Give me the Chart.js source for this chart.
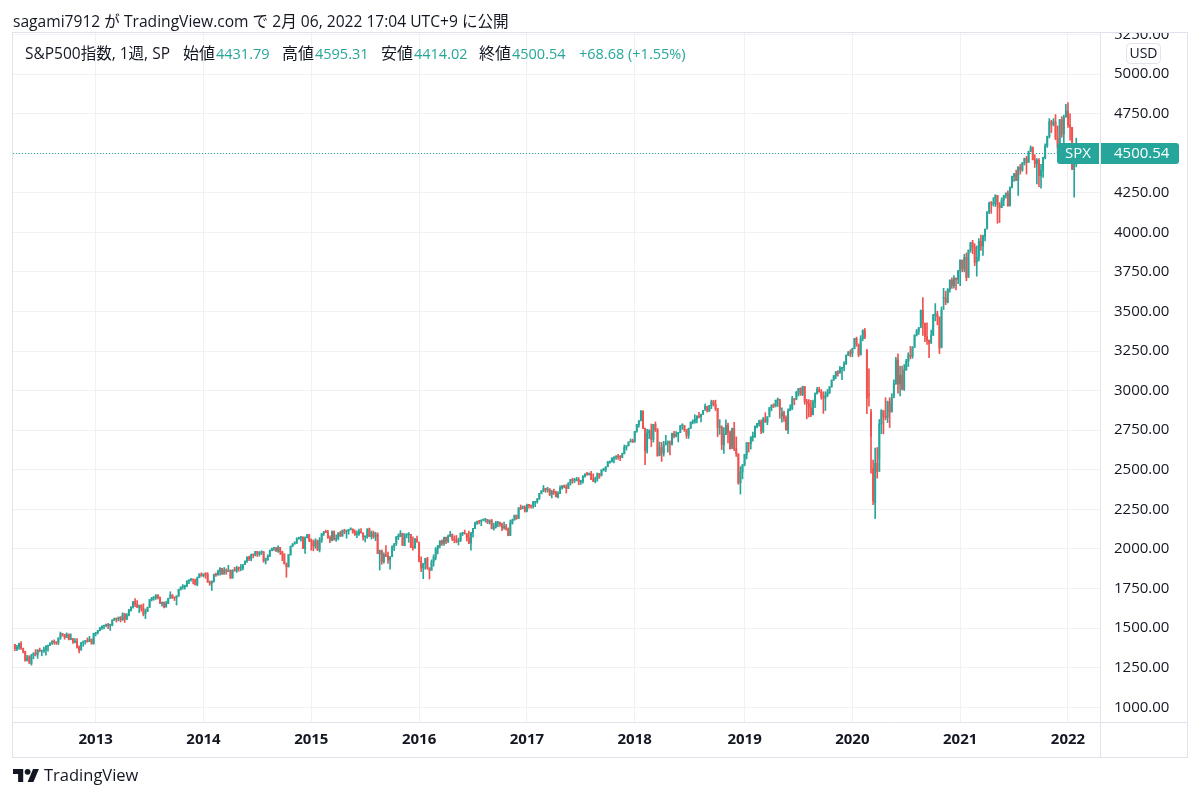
<!DOCTYPE html>
<html>
<head>
<meta charset="utf-8">
<title>S&amp;P500 weekly</title>
<script src="https://cdn.jsdelivr.net/npm/chart.js@4.4.1/dist/chart.umd.min.js"></script>
<style>
  html, body { margin: 0; padding: 0; background: #fff; }
  body { width: 1200px; height: 800px; overflow: hidden; }
  canvas { display: block; }
</style>
</head>
<body>
<canvas id="chart" width="1200" height="800"></canvas>
<script>
// --- Data: S&P500 weekly candles (week ending Friday) ---
const open2012 = [1398,1370,1379,1403,1369,1353,1295,1318,1278,1326,1343,1335,1362,1355,1357,1363,1386,1391,1406,1418,1411,1407,1438,1466,1460,1441,1461,1429,1433,1412,1414,1380,1360,1409,1416,1418,1414,1430];
const high2012 = [1398,1392,1406,1415,1374,1354,1328,1326,1335,1344,1364,1363,1374,1358,1380,1390,1392,1407,1419,1426,1413,1438,1475,1465,1460,1470,1464,1464,1435,1434,1434,1388,1409,1419,1421,1438,1448,1431];
const low2012 = [1357,1358,1366,1367,1343,1291,1292,1277,1266,1306,1324,1309,1350,1325,1346,1329,1354,1391,1397,1398,1397,1396,1429,1449,1430,1440,1425,1427,1403,1407,1373,1343,1363,1385,1398,1411,1416,1398];
const close2012 = [1370,1379,1403,1369,1353,1295,1318,1278,1326,1343,1335,1362,1355,1357,1363,1386,1391,1406,1418,1411,1407,1438,1466,1460,1441,1461,1429,1433,1412,1414,1380,1360,1409,1416,1418,1414,1430,1402];

const open2013 = [1402,1466,1472,1486,1503,1513,1518,1520,1516,1518,1551,1561,1557,1569,1553,1589,1555,1582,1614,1634,1667,1650,1631,1643,1627,1592,1606,1632,1680,1692,1692,1710,1691,1656,1664,1633,1655,1688,1710,1692,1691,1703,1745,1760,1762,1771,1798,1805,1806,1805,1775,1818];
const high2013 = [1467,1473,1486,1503,1514,1518,1525,1531,1525,1553,1564,1563,1570,1573,1597,1593,1592,1618,1635,1667,1687,1674,1646,1648,1654,1620,1632,1680,1693,1698,1710,1710,1698,1664,1664,1670,1689,1730,1711,1696,1704,1745,1760,1775,1771,1798,1805,1813,1808,1809,1823,1844];
const low2013 = [1398,1451,1463,1482,1492,1495,1508,1497,1485,1514,1547,1538,1546,1539,1548,1536,1555,1577,1607,1626,1635,1630,1598,1607,1577,1560,1604,1631,1671,1676,1681,1684,1654,1639,1627,1633,1656,1688,1687,1674,1646,1700,1740,1746,1746,1761,1780,1797,1779,1772,1767,1819];
const close2013 = [1466,1472,1486,1503,1513,1518,1520,1516,1518,1551,1561,1557,1569,1553,1589,1555,1582,1614,1634,1667,1650,1631,1643,1627,1592,1606,1632,1680,1692,1692,1710,1691,1656,1664,1633,1655,1688,1710,1692,1691,1703,1745,1760,1762,1771,1798,1805,1806,1805,1775,1818,1841];

const open2014 = [1841,1831,1842,1839,1790,1783,1797,1839,1836,1859,1878,1841,1867,1858,1865,1816,1865,1863,1881,1878,1878,1901,1924,1949,1936,1963,1961,1985,1968,1978,1978,1925,1932,1955,1988,2003,2008,1986,2010,1983,1968,1906,1887,1965,2018,2032,2040,2064,2068,2075,2002,2071];
const high2014 = [1849,1843,1851,1850,1798,1798,1841,1847,1867,1883,1878,1883,1875,1897,1868,1869,1884,1891,1886,1902,1901,1924,1950,1955,1968,1968,1985,1985,1983,1989,1985,1943,1964,1994,2006,2011,2008,2019,2009,1986,1970,1912,1966,2018,2034,2046,2071,2075,2079,2076,2077,2093];
const low2014 = [1827,1823,1815,1790,1770,1738,1791,1826,1834,1835,1839,1841,1840,1857,1814,1816,1859,1851,1859,1862,1868,1900,1915,1926,1925,1944,1956,1952,1955,1965,1916,1905,1928,1952,1989,1990,1984,1978,1965,1926,1905,1821,1886,1960,2014,2030,2034,2062,2049,2002,1972,2069];
const close2014 = [1831,1842,1839,1790,1783,1797,1839,1836,1859,1878,1841,1867,1858,1865,1816,1865,1863,1881,1878,1878,1901,1924,1949,1936,1963,1961,1985,1968,1978,1978,1925,1932,1955,1988,2003,2008,1986,2010,1983,1968,1906,1887,1965,2018,2032,2040,2064,2068,2075,2002,2071,2089];

const open2015 = [2089,2058,2045,2019,2052,1995,2055,2097,2110,2105,2071,2053,2108,2061,2067,2102,2081,2118,2108,2116,2123,2126,2107,2093,2094,2110,2101,2077,2077,2127,2080,2104,2078,2092,1966,1989,1921,1961,1958,1931,1951,2015,2033,2075,2079,2099,2023,2089,2090,2092,2012,2006];
const high2015 = [2092,2064,2056,2065,2057,2072,2097,2110,2119,2117,2083,2114,2114,2089,2102,2111,2120,2125,2120,2123,2134,2126,2121,2115,2126,2129,2102,2081,2127,2132,2114,2113,2105,2102,1993,1993,1976,2021,1980,1952,2020,2034,2080,2094,2116,2100,2097,2095,2104,2093,2076,2067];
const low2015 = [2046,1992,1988,2004,1989,1981,2041,2085,2103,2067,2039,2050,2056,2048,2057,2079,2080,2096,2068,2093,2120,2099,2085,2072,2085,2101,2056,2044,2067,2077,2063,2067,2052,1970,1867,1903,1911,1952,1908,1872,1953,1990,2022,2059,2077,2022,2019,2070,2042,2008,1993,2005];
const close2015 = [2058,2045,2019,2052,1995,2055,2097,2110,2105,2071,2053,2108,2061,2067,2102,2081,2118,2108,2116,2123,2126,2107,2093,2094,2110,2101,2077,2077,2127,2080,2104,2078,2092,1971,1989,1921,1961,1958,1931,1951,2015,2033,2075,2079,2099,2023,2089,2090,2092,2012,2006,2061];

const open2016 = [2061,2044,1922,1880,1907,1940,1880,1865,1918,1948,2000,2022,2050,2036,2073,2048,2081,2092,2065,2057,2047,2052,2099,2099,2096,2071,2037,2103,2130,2162,2175,2174,2183,2184,2184,2169,2180,2128,2139,2165,2168,2154,2133,2141,2126,2085,2164,2182,2213,2192,2260,2258,2264];
const high2016 = [2081,2038,1950,1908,1940,1947,1881,1931,1963,2009,2023,2052,2057,2075,2075,2087,2111,2095,2083,2085,2068,2101,2105,2120,2096,2113,2104,2131,2169,2176,2178,2183,2188,2193,2187,2184,2187,2163,2175,2175,2169,2164,2170,2155,2133,2183,2189,2214,2214,2260,2278,2272,2273];
const low2016 = [2043,1918,1857,1812,1872,1872,1810,1865,1891,1931,1969,2007,2023,2022,2034,2039,2077,2053,2039,2039,2025,2047,2085,2094,2050,2033,1992,2074,2128,2155,2159,2147,2178,2169,2160,2157,2127,2119,2132,2140,2142,2115,2125,2119,2083,2085,2157,2183,2187,2192,2248,2254,2233];
const close2016 = [2044,1922,1880,1907,1940,1880,1865,1918,1948,2000,2022,2050,2036,2073,2048,2081,2092,2065,2057,2047,2052,2099,2099,2096,2071,2037,2103,2130,2162,2175,2174,2183,2184,2184,2169,2180,2128,2139,2165,2168,2154,2133,2141,2126,2085,2164,2182,2213,2192,2260,2258,2264,2239];

const open2017 = [2239,2277,2275,2271,2295,2297,2316,2351,2367,2383,2373,2378,2344,2363,2356,2329,2349,2384,2399,2391,2382,2416,2439,2432,2433,2438,2423,2425,2459,2473,2472,2477,2441,2426,2443,2477,2461,2500,2502,2519,2549,2553,2575,2581,2588,2582,2579,2602,2642,2652,2676,2683];
const high2017 = [2283,2280,2276,2301,2300,2319,2351,2368,2401,2384,2390,2381,2371,2378,2366,2362,2398,2400,2404,2406,2418,2440,2447,2446,2453,2451,2434,2464,2474,2484,2480,2490,2474,2454,2480,2475,2500,2509,2519,2553,2555,2575,2582,2588,2598,2590,2605,2657,2652,2676,2695,2694];
const low2017 = [2234,2257,2258,2257,2267,2289,2313,2348,2361,2358,2359,2336,2322,2344,2328,2322,2375,2378,2386,2353,2381,2403,2415,2419,2430,2405,2407,2415,2453,2465,2466,2437,2425,2417,2428,2446,2474,2493,2488,2520,2541,2548,2544,2566,2566,2558,2576,2600,2624,2650,2676,2673];
const close2017 = [2277,2275,2271,2295,2297,2316,2351,2367,2383,2373,2378,2344,2363,2356,2329,2349,2384,2399,2391,2382,2416,2439,2432,2433,2438,2423,2425,2459,2473,2472,2477,2441,2426,2443,2477,2461,2500,2502,2519,2549,2553,2575,2581,2588,2582,2579,2602,2642,2652,2676,2683,2674];

const open2018 = [2674,2743,2786,2810,2873,2762,2620,2732,2747,2691,2787,2752,2588,2641,2604,2656,2670,2670,2663,2728,2713,2721,2735,2779,2780,2755,2718,2760,2801,2802,2819,2840,2833,2850,2875,2902,2872,2905,2930,2914,2886,2767,2768,2659,2723,2781,2736,2633,2760,2633,2600,2417];
const high2018 = [2743,2787,2811,2873,2871,2763,2755,2754,2789,2787,2802,2761,2675,2673,2680,2718,2683,2683,2732,2743,2742,2736,2779,2791,2779,2753,2764,2802,2816,2848,2841,2863,2852,2876,2916,2901,2908,2940,2939,2940,2889,2817,2778,2767,2815,2795,2746,2764,2800,2708,2601,2520];
const low2018 = [2682,2737,2769,2808,2760,2533,2605,2697,2647,2675,2742,2586,2594,2553,2586,2666,2612,2594,2655,2702,2707,2676,2735,2755,2742,2699,2698,2770,2790,2794,2796,2828,2802,2850,2885,2864,2868,2886,2903,2874,2710,2724,2628,2603,2722,2670,2631,2649,2621,2584,2409,2347];
const close2018 = [2743,2786,2810,2873,2762,2620,2732,2747,2691,2787,2752,2588,2641,2604,2656,2670,2670,2663,2728,2713,2721,2735,2779,2780,2755,2718,2760,2801,2802,2819,2840,2833,2850,2875,2902,2872,2905,2930,2914,2886,2767,2768,2659,2723,2781,2736,2633,2760,2633,2600,2417,2486];

const open2019 = [2486,2532,2596,2671,2665,2707,2708,2776,2793,2804,2743,2822,2801,2834,2893,2907,2905,2940,2946,2841,2860,2826,2752,2873,2887,2950,2942,2990,3014,2977,3026,2932,2919,2889,2847,2926,2979,3007,2992,2962,2952,2970,2986,3023,3067,3093,3120,3110,3141,3146,3169,3221];
const high2019 = [2533,2598,2672,2670,2709,2738,2776,2793,2814,2816,2831,2861,2836,2893,2911,2917,2940,2954,2932,2892,2871,2841,2885,2911,2964,2951,2996,3014,3018,3028,3027,2945,2944,2939,2940,2986,3021,3022,3007,2993,2993,3008,3027,3067,3097,3120,3127,3154,3146,3183,3226,3248];
const low2019 = [2443,2525,2569,2612,2631,2681,2704,2764,2775,2728,2734,2800,2785,2848,2873,2893,2897,2900,2825,2801,2805,2750,2728,2874,2880,2911,2952,2966,2970,2968,2914,2822,2834,2836,2848,2892,2979,2990,2946,2856,2874,2962,2982,3023,3065,3075,3091,3112,3070,3124,3166,3223];
const close2019 = [2532,2596,2671,2665,2707,2708,2776,2793,2804,2743,2822,2801,2834,2893,2907,2905,2940,2946,2881,2860,2826,2752,2873,2887,2950,2942,2990,3014,2977,3026,2932,2919,2889,2847,2926,2979,3007,2992,2962,2952,2970,2986,3023,3067,3093,3120,3110,3141,3146,3169,3221,3240];

const open2020 = [3240,3235,3265,3330,3295,3226,3328,3380,3257,2974,2863,2508,2291,2541,2489,2790,2875,2837,2831,2930,2864,2955,3044,3194,3041,3098,3009,3130,3185,3225,3216,3271,3351,3373,3397,3508,3427,3341,3319,3298,3348,3477,3484,3465,3270,3583,3585,3558,3638,3699,3663,3709];
const high2020 = [3258,3268,3330,3338,3285,3347,3385,3393,3259,3137,2882,2562,2637,2641,2818,2880,2871,2955,2934,2955,2981,3068,3211,3232,3155,3155,3165,3198,3240,3280,3279,3352,3387,3399,3509,3588,3425,3429,3320,3382,3482,3550,3502,3465,3529,3646,3628,3645,3699,3712,3727,3712];
const low2020 = [3215,3214,3264,3280,3214,3225,3315,3328,2855,2902,2478,2280,2192,2447,2575,2728,2727,2816,2798,2767,2868,2970,3039,2984,2966,3005,3001,3128,3152,3200,3204,3285,3345,3355,3411,3349,3310,3292,3209,3303,3354,3441,3416,3234,3279,3512,3543,3554,3622,3646,3647,3636];
const close2020 = [3235,3265,3330,3295,3226,3328,3380,3338,2954,2972,2711,2305,2541,2489,2790,2875,2837,2831,2930,2864,2955,3044,3194,3041,3098,3009,3130,3185,3225,3216,3271,3351,3373,3397,3508,3427,3341,3319,3298,3348,3477,3484,3465,3270,3509,3585,3558,3638,3699,3663,3709,3703];

const open2021 = [3703,3756,3825,3768,3841,3714,3887,3935,3907,3811,3842,3943,3913,3975,4020,4129,4185,4180,4181,4233,4174,4156,4204,4230,4247,4166,4281,4352,4370,4327,4412,4395,4437,4468,4442,4509,4535,4459,4433,4455,4357,4391,4471,4545,4605,4698,4683,4698,4595,4538,4712,4621,4726];
const high2021 = [3760,3826,3824,3861,3870,3889,3937,3950,3928,3914,3960,3983,3982,4021,4129,4191,4195,4219,4238,4232,4188,4218,4234,4249,4262,4287,4356,4372,4393,4415,4430,4441,4468,4480,4513,4546,4540,4490,4466,4466,4429,4475,4559,4608,4718,4708,4718,4744,4672,4713,4731,4740,4808];
const low2021 = [3675,3663,3750,3750,3694,3725,3874,3865,3789,3723,3819,3885,3854,3946,4034,4118,4120,4166,4163,4057,4062,4155,4168,4216,4165,4174,4286,4321,4326,4233,4368,4385,4425,4368,4441,4513,4457,4410,4305,4288,4279,4346,4464,4537,4596,4630,4672,4585,4495,4532,4600,4531,4733];
const close2021 = [3756,3825,3768,3841,3714,3887,3935,3907,3811,3842,3943,3913,3975,4020,4129,4185,4180,4181,4233,4174,4156,4204,4230,4247,4166,4281,4352,4370,4327,4412,4395,4437,4468,4442,4509,4535,4459,4433,4455,4357,4391,4471,4545,4605,4698,4683,4698,4595,4538,4712,4621,4726,4766];

const open2022 = [4766,4677,4663,4398,4431.79];
const high2022 = [4819,4749,4663,4453,4595.31];
const low2022 = [4662,4582,4395,4222,4414.02];
const close2022 = [4677,4663,4398,4432,4500.54];

// price scale ticks and the text bits of the header
const priceTicks = [1000,1250,1500,1750,2000,2250,2500,2750,3000,3250,3500,3750,4000,4250,4500,4750,5000,5250];
const titleText = 'sagami7912 が TradingView.com で 2月 06, 2022 17:04 UTC+9 に公開';
const symbolText = 'S&P500指数, 1週, SP';
const changeText = '+68.68 (+1.55%)';
const firstMonday = Date.UTC(2012, 3, 9);

// --- Build candles ---
const opens = [].concat(open2012, open2013, open2014, open2015, open2016, open2017, open2018, open2019, open2020, open2021, open2022);
const highs = [].concat(high2012, high2013, high2014, high2015, high2016, high2017, high2018, high2019, high2020, high2021, high2022);
const lows = [].concat(low2012, low2013, low2014, low2015, low2016, low2017, low2018, low2019, low2020, low2021, low2022);
const closes = [].concat(close2012, close2013, close2014, close2015, close2016, close2017, close2018, close2019, close2020, close2021, close2022);

const DARK = '#131722', TEAL = '#26a69a', RED = '#ef5350', LINE = '#e0e3eb', GRID = '#eff1f4';
const FONT = '"Open Sans", "Noto Sans CJK JP", sans-serif';

const candleColors = closes.map((c, i) => c >= opens[i] ? TEAL : RED);
const bodyData = opens.map((o, i) => ({ x: i, y: [o, closes[i]] }));
const wickData = lows.map((l, i) => ({ x: i, y: [l, highs[i]] }));

// year marks sit on the first weekly bar whose Monday falls in the new year
const yearTicks = [];
const yearLabels = [];
const WEEK = 7 * 86400000;
for (let i = 1; i < closes.length; i++) {
    const prev = new Date(firstMonday + (i - 1) * WEEK).getUTCFullYear();
    const cur = new Date(firstMonday + i * WEEK).getUTCFullYear();
    if (cur !== prev) { yearTicks.push(i); yearLabels.push(String(cur)); }
}

const last = closes.length - 1;

const roundRect = (ctx, x, y, w, h, r) => {
    ctx.beginPath();
    ctx.moveTo(x + r[0], y);
    ctx.lineTo(x + w - r[1], y);
    ctx.quadraticCurveTo(x + w, y, x + w, y + r[1]);
    ctx.lineTo(x + w, y + h - r[2]);
    ctx.quadraticCurveTo(x + w, y + h, x + w - r[2], y + h);
    ctx.lineTo(x + r[3], y + h);
    ctx.quadraticCurveTo(x, y + h, x, y + h - r[3]);
    ctx.lineTo(x, y + r[0]);
    ctx.quadraticCurveTo(x, y, x + r[0], y);
    ctx.closePath();
};

// frame, header, legend, price label and logo
const overlay = {
    id: 'overlay',
    afterDraw(chart) {
        const ctx = chart.ctx;
        const area = chart.chartArea;
        const yScale = chart.scales.y;
        ctx.save();

        // hide the part of the price scale above the frame
        ctx.fillStyle = '#fff';
        ctx.fillRect(area.right + 1, 0, 100, area.top);

        // frame
        ctx.strokeStyle = LINE;
        ctx.lineWidth = 1;
        ctx.strokeRect(12.5, 32.5, 1175, 725);
        ctx.beginPath();
        ctx.moveTo(13, area.bottom + 0.5); ctx.lineTo(1187, area.bottom + 0.5);
        ctx.moveTo(area.right + 0.5, 33); ctx.lineTo(area.right + 0.5, 757);
        ctx.stroke();

        // last price line
        const py = Math.round(yScale.getPixelForValue(closes[last])) + 0.5;
        ctx.strokeStyle = TEAL;
        ctx.setLineDash([1, 2]);
        ctx.beginPath();
        ctx.moveTo(area.left, py); ctx.lineTo(1057, py);
        ctx.stroke();
        ctx.setLineDash([]);

        ctx.fillStyle = TEAL;
        roundRect(ctx, 1057, py - 10.5, 42, 21, [3, 0, 0, 3]);
        ctx.fill();
        roundRect(ctx, 1101, py - 10.5, 78, 21, [0, 3, 3, 0]);
        ctx.fill();
        ctx.fillStyle = '#fff';
        ctx.font = '15px ' + FONT;
        ctx.textBaseline = 'middle';
        ctx.textAlign = 'center';
        ctx.fillText('SPX', 1078, py);
        ctx.textAlign = 'left';
        ctx.fillText(closes[last].toFixed(2), 1114, py);

        // currency box
        ctx.fillStyle = '#fff';
        roundRect(ctx, 1126.5, 43.5, 34, 20, [4, 4, 4, 4]);
        ctx.fill();
        ctx.strokeStyle = LINE;
        ctx.stroke();
        ctx.fillStyle = DARK;
        ctx.font = '14px ' + FONT;
        ctx.textAlign = 'center';
        ctx.fillText('USD', 1143.5, 54);

        // header
        ctx.textAlign = 'left';
        ctx.textBaseline = 'alphabetic';
        ctx.font = '15.6px ' + FONT;
        ctx.fillStyle = DARK;
        ctx.fillText(titleText, 13, 27);

        // legend row: symbol, then label + value pairs, then the change
        ctx.fillStyle = DARK;
        ctx.font = '15.5px ' + FONT;
        ctx.fillText(symbolText, 25, 59);
        const pairs = [
            ['始値', opens[last], 183],
            ['高値', highs[last], 282],
            ['安値', lows[last], 381],
            ['終値', closes[last], 479]
        ];
        pairs.forEach(([label, value, x]) => {
            ctx.font = '16px ' + FONT;
            ctx.fillStyle = DARK;
            ctx.fillText(label, x, 59);
            const w = ctx.measureText(label).width;
            ctx.font = '14.5px ' + FONT;
            ctx.fillStyle = TEAL;
            ctx.fillText(value.toFixed(2), x + w + 1, 59);
        });
        ctx.fillText(changeText, 579, 59);

        // logo
        ctx.save();
        ctx.translate(13, 766);
        ctx.scale(0.73, 0.73);
        ctx.fillStyle = DARK;
        ctx.fill(new Path2D('M14 22H7V11H0V4h14v18zM28 22h-8l7.5-18h8L28 22z'));
        ctx.beginPath();
        ctx.arc(20, 8, 4, 0, Math.PI * 2);
        ctx.fill();
        ctx.restore();
        ctx.font = '16.5px ' + FONT;
        ctx.fillStyle = DARK;
        ctx.fillText('TradingView', 44, 781);

        ctx.restore();
    }
};

new Chart(document.getElementById('chart'), {
    type: 'bar',
    data: {
        datasets: [
            { data: wickData, backgroundColor: candleColors, barThickness: 1, grouped: false },
            { data: bodyData, backgroundColor: candleColors, barThickness: 1.3, grouped: false, minBarLength: 1 }
        ]
    },
    options: {
        responsive: false,
        animation: false,
        layout: { autoPadding: false, padding: { left: 13, top: 33, right: 13, bottom: 43 } },
        plugins: { legend: { display: false }, tooltip: { enabled: false } },
        scales: {
            x: {
                type: 'linear',
                min: -0.89,
                max: 523.45,
                offset: false,
                afterBuildTicks: s => { s.ticks = yearTicks.map(v => ({ value: v })); },
                afterFit: s => { s.height = 35; },
                grid: { color: GRID, drawTicks: false, offset: false },
                border: { display: false },
                ticks: {
                    autoSkip: false, maxRotation: 0, padding: 9,
                    color: DARK, font: { family: FONT, size: 15, weight: 'bold' },
                    callback: (v, i) => yearLabels[i]
                }
            },
            y: {
                position: 'right',
                min: 907,
                max: 5259,
                beginAtZero: false,
                afterBuildTicks: s => { s.ticks = priceTicks.map(v => ({ value: v })); },
                afterFit: s => { s.width = 87; },
                grid: { color: GRID, drawTicks: false },
                border: { display: false },
                ticks: {
                    padding: 14, color: DARK,
                    font: { family: FONT, size: 15 },
                    callback: v => v.toFixed(2)
                }
            }
        }
    },
    plugins: [overlay]
});
</script>
</body>
</html>
